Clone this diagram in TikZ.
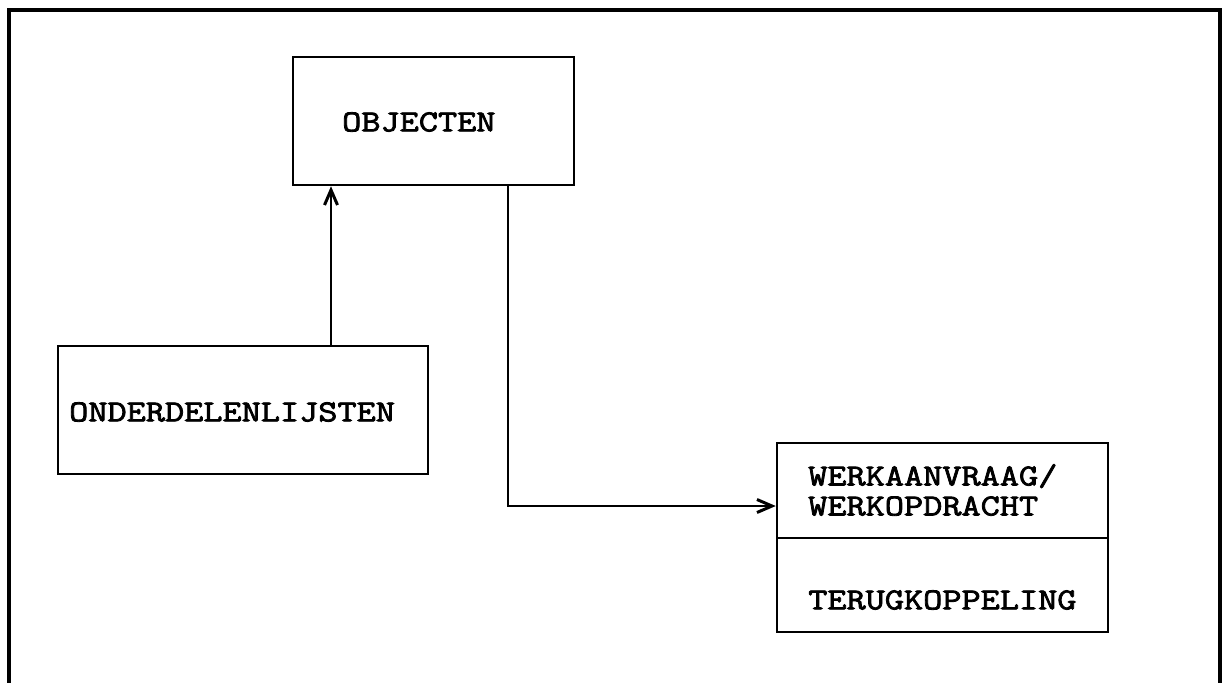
\documentclass[tikz,border=0pt]{standalone}
\usepackage{fontspec}
\newfontfamily\courfont[FakeStretch=1.22, FakeBold=2.6]{Latin Modern Mono}
\usetikzlibrary{arrows.meta}
\tikzset{
  boxshape/.style={draw, line width=2.5pt, rectangle, inner sep=0pt},
  lbl/.style={font=\fontsize{30.5}{30}\selectfont\courfont, inner sep=0pt, anchor=west},
  conn/.style={line width=2.5pt, -{Straight Barb[length=15pt,width=13pt,line width=3pt]}},
}
\begin{document}
\begin{tikzpicture}[x=1pt,y=-1pt]
\useasboundingbox (0,0) rectangle (1222,682);
\begin{scope}
\clip (0,0) rectangle (1222,682);
\draw[line width=3.5pt] (9,720) -- (9,10) -- (1220,10) -- (1220,720);
\end{scope}
% OBJECTEN
\node[boxshape, minimum width=281pt, minimum height=128pt] (obj) at (433.5,121) {};
\node[lbl] (objt) at (342,122) {OBJECTEN};
% ONDERDELENLIJSTEN
\node[boxshape, minimum width=370pt, minimum height=128pt] (ond) at (243,410) {};
\node[lbl] (ondt) at (69,412) {ONDERDELENLIJSTEN};
% WERK box
\node[boxshape, minimum width=331pt, minimum height=189pt] (werk) at (942.5,537.5) {};
\coordinate (divl) at (777,538);
\coordinate (divr) at (1108,538);
\draw[line width=2.5pt] (divl) -- (divr);
\node[lbl, align=left] (werkt) at (808,490) {WERKAANVRAAG/\\WERKOPDRACHT};
\node[lbl] (terug) at (808,600) {TERUGKOPPELING};
% connectors
\draw[conn] (ond.north -| 331,0) -- (obj.south -| 331,0);
\draw[conn] (obj.south -| 508,0) |- (werk.west |- 0,506);
\end{tikzpicture}
\end{document}
